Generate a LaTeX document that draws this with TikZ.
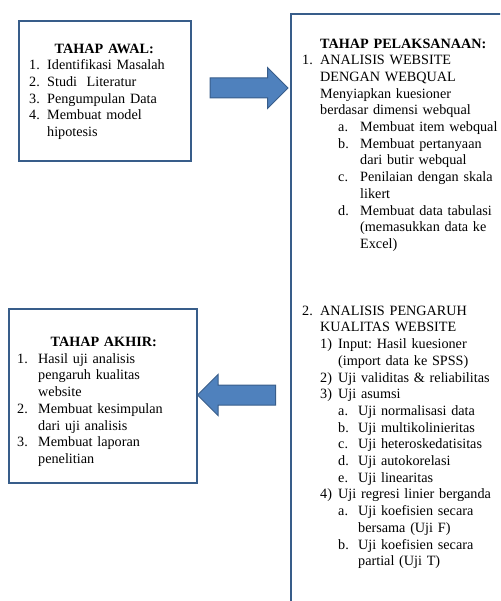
\documentclass[tikz,border=0pt]{standalone}
\usepackage{fontspec}
\setmainfont{Liberation Serif}
\usetikzlibrary{shapes.arrows}
\definecolor{boxline}{RGB}{56,93,138}
\definecolor{arrowfill}{RGB}{79,129,189}
\newcommand{\lbl}[2]{\makebox[#1][l]{#2}}
\frenchspacing

\begin{document}
\begin{tikzpicture}[x=1pt, y=-1pt,
    box/.style={draw=boxline, line width=2pt, rectangle, inner sep=0pt, anchor=north west},
    txt/.style={anchor=north west, inner sep=0pt, align=left, font=\fontsize{14.2}{16.7}\selectfont},
    blockarrow/.style={single arrow, draw=boxline, fill=arrowfill, line width=1pt,
        inner xsep=0pt, inner ysep=0pt, text height=9.5pt, text depth=9.5pt,
        single arrow head extend=10.5pt, minimum height=78pt}]
    \useasboundingbox (0,0) rectangle (500,601);
    \clip (0,0) rectangle (500,601);

    % the three stages
    \node[box, minimum width=172pt, minimum height=140pt] at (18, 20) (awal) {};
    \node[box, minimum width=240pt, minimum height=620pt] at (290, 13) (pelaksanaan) {};
    \node[box, minimum width=188pt, minimum height=174pt] at (8, 308) (akhir) {};

    \node[txt, text width=150pt] at (29, 43.5) (awaltxt) {%
        \makebox[\linewidth][c]{\textbf{TAHAP AWAL:}}\\
        \lbl{18pt}{1.}Identifikasi Masalah\\
        \lbl{18pt}{2.}Studi\ \ Literatur\\
        \lbl{18pt}{3.}Pengumpulan Data\\
        \lbl{18pt}{4.}Membuat model\\
        \hspace*{18pt}hipotesis};

    \node[txt, text width=200pt] at (302, 38.5) (pelaksanaantxt) {%
        \hspace*{18pt}\textbf{TAHAP PELAKSANAAN:}\\
        \lbl{18pt}{1.}ANALISIS WEBSITE\\
        \hspace*{18pt}DENGAN WEBQUAL\\
        \hspace*{18pt}Menyiapkan kuesioner\\
        \hspace*{18pt}berdasar dimensi webqual\\
        \hspace*{36pt}\lbl{22pt}{a.}Membuat item webqual\\
        \hspace*{36pt}\lbl{22pt}{b.}Membuat pertanyaan\\
        \hspace*{58pt}dari butir webqual\\
        \hspace*{36pt}\lbl{22pt}{c.}Penilaian dengan skala\\
        \hspace*{58pt}likert\\
        \hspace*{36pt}\lbl{22pt}{d.}Membuat data tabulasi\\
        \hspace*{58pt}(memasukkan data ke\\
        \hspace*{58pt}Excel)\\[50pt]
        \lbl{18pt}{2.}ANALISIS PENGARUH\\
        \hspace*{18pt}KUALITAS WEBSITE\\
        \hspace*{18pt}\lbl{18pt}{1)}Input: Hasil kuesioner\\
        \hspace*{36pt}(import data ke SPSS)\\
        \hspace*{18pt}\lbl{18pt}{2)}Uji validitas \& reliabilitas\\
        \hspace*{18pt}\lbl{18pt}{3)}Uji asumsi\\
        \hspace*{36pt}\lbl{20pt}{a.}Uji normalisasi data\\
        \hspace*{36pt}\lbl{20pt}{b.}Uji multikolinieritas\\
        \hspace*{36pt}\lbl{20pt}{c.}Uji heteroskedatisitas\\
        \hspace*{36pt}\lbl{20pt}{d.}Uji autokorelasi\\
        \hspace*{36pt}\lbl{20pt}{e.}Uji linearitas\\
        \hspace*{18pt}\lbl{18pt}{4)}Uji regresi linier berganda\\
        \hspace*{36pt}\lbl{20pt}{a.}Uji koefisien secara\\
        \hspace*{56pt}bersama (Uji F)\\
        \hspace*{36pt}\lbl{20pt}{b.}Uji koefisien secara\\
        \hspace*{56pt}partial (Uji T)};

    \node[txt, text width=173pt] at (17, 337) (akhirtxt) {%
        \makebox[\linewidth][c]{\textbf{TAHAP AKHIR:}}\\
        \lbl{21pt}{1.}Hasil uji analisis\\
        \hspace*{21pt}pengaruh kualitas\\
        \hspace*{21pt}website\\
        \lbl{21pt}{2.}Membuat kesimpulan\\
        \hspace*{21pt}dari uji analisis\\
        \lbl{21pt}{3.}Membuat laporan\\
        \hspace*{21pt}penelitian};

    % block arrows between the stages
    \node[blockarrow] at (244, 88) (toexec) {};
    \node[blockarrow, shape border rotate=180] at (241.5, 395) (toend) {};
\end{tikzpicture}
\end{document}
